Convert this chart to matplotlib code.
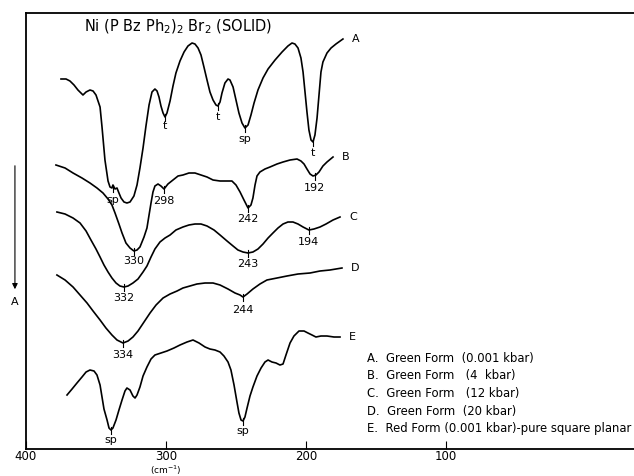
import matplotlib
matplotlib.use("Agg")
import matplotlib.pyplot as plt

# wavenumber (cm-1) and trace height (arbitrary absorbance units, grows downward)
a_wn = [375.0, 371.4, 368.6, 365.7, 362.9, 359.3, 357.1, 354.3, 352.1, 350.0, 347.1, 345.7, 343.6, 341.4,
        340.0, 338.6, 337.9, 336.4, 335.0, 333.6, 332.1, 330.0, 327.9, 325.7, 322.9, 320.7, 318.6, 316.4,
        314.3, 312.1, 310.0, 307.9, 306.4, 305.0, 303.6, 302.1, 300.7, 299.3, 297.1, 295.0, 292.9, 290.0,
        287.1, 284.3, 281.4, 279.3, 277.1, 275.0, 272.9, 270.7, 268.6, 266.4, 264.3, 262.9, 261.4, 260.0,
        257.9, 255.7, 254.3, 252.1, 250.0, 247.9, 245.7, 243.6, 241.4, 239.3, 237.1, 234.3, 230.7, 227.1,
        222.1, 217.1, 212.9, 210.0, 207.9, 205.7, 203.6, 202.1, 200.7, 199.3, 197.9, 196.4, 195.0, 193.6,
        192.1, 190.7, 189.3, 187.9, 185.0, 182.1, 178.6, 173.6]
a_y = [79, 79, 81, 85, 90, 95, 92, 90, 91, 95, 107, 127, 160, 181,
       187, 188, 185, 189, 188, 193, 198, 202, 203, 202, 196, 185, 168, 148,
       126, 105, 92, 89, 91, 97, 106, 113, 117, 113, 101, 86, 73, 61,
       52, 46, 43, 44, 48, 55, 67, 80, 92, 100, 105, 106, 102, 93,
       83, 79, 80, 87, 100, 113, 123, 128, 125, 115, 103, 90, 78, 69,
       60, 52, 46, 43, 44, 48, 58, 72, 92, 112, 130, 140, 142, 135,
       118, 95, 72, 62, 53, 48, 44, 39]

b_wn = [378.6, 372.1, 366.4, 360.0, 354.3, 349.3, 345.0, 341.4, 338.6, 336.4, 333.6, 331.4, 328.6, 325.7,
        322.9, 320.7, 318.6, 315.7, 313.6, 312.1, 310.7, 309.3, 307.9, 305.7, 303.6, 301.4, 298.6, 295.0,
        291.4, 287.9, 283.6, 279.3, 275.0, 270.7, 266.4, 261.4, 256.4, 252.9, 250.0, 247.1, 244.3, 241.4,
        239.3, 237.9, 236.4, 235.0, 232.9, 229.3, 225.7, 220.7, 216.4, 211.4, 206.4, 203.6, 201.4, 199.3,
        197.1, 195.0, 192.9, 190.7, 187.9, 185.0, 180.7]
b_y = [165, 168, 173, 178, 183, 188, 193, 199, 205, 213, 224, 233, 243, 248,
       251, 250, 247, 237, 228, 215, 203, 192, 186, 184, 186, 189, 184, 180,
       176, 175, 173, 173, 175, 177, 180, 181, 181, 181, 185, 192, 200, 208,
       205, 198, 185, 176, 172, 169, 167, 164, 162, 160, 159, 161, 164, 169,
       174, 176, 175, 172, 166, 162, 157]

c_wn = [377.9, 372.1, 366.4, 361.4, 357.1, 353.6, 350.0, 347.1, 344.3, 341.4, 338.6, 335.7, 332.9, 330.0,
        327.1, 323.6, 320.0, 316.4, 313.6, 310.7, 307.9, 304.3, 300.7, 297.1, 292.9, 287.9, 283.6, 279.3,
        275.0, 270.7, 265.7, 261.4, 256.4, 252.1, 248.6, 245.0, 241.4, 237.9, 234.3, 230.7, 227.1, 223.6,
        220.0, 216.4, 212.9, 209.3, 205.7, 202.1, 197.9, 194.3, 190.0, 185.7, 180.7, 175.7]
c_y = [212, 214, 218, 223, 231, 240, 249, 257, 265, 272, 278, 283, 286, 287,
       286, 283, 279, 272, 266, 257, 249, 242, 238, 235, 230, 227, 225, 224,
       224, 226, 230, 235, 241, 246, 250, 252, 253, 252, 249, 244, 238, 233,
       228, 224, 222, 222, 224, 227, 230, 229, 227, 224, 220, 217]

d_wn = [377.9, 372.1, 366.4, 361.4, 356.4, 352.1, 347.1, 342.9, 338.6, 335.0, 330.7, 327.1, 323.6, 320.0,
        315.7, 311.4, 307.1, 302.1, 297.1, 292.1, 287.9, 282.9, 277.9, 272.1, 266.4, 261.4, 255.7, 250.7,
        247.1, 245.0, 242.1, 237.9, 232.9, 227.9, 220.7, 213.6, 205.7, 197.1, 190.0, 182.9, 174.3]
d_y = [275, 280, 287, 295, 303, 311, 320, 328, 335, 340, 343, 341, 337, 331,
       322, 313, 305, 298, 294, 291, 288, 286, 284, 283, 283, 285, 289, 293,
       295, 297, 294, 289, 284, 280, 278, 276, 274, 273, 271, 270, 268]

e_wn = [370.7, 367.1, 363.6, 360.0, 357.1, 354.3, 351.4, 349.3, 347.1, 345.7, 344.3, 342.1, 340.7, 339.3,
        337.9, 335.7, 333.6, 331.4, 329.3, 327.9, 325.7, 323.6, 322.1, 320.7, 318.6, 316.4, 313.6, 310.7,
        307.9, 303.6, 299.3, 294.3, 290.0, 285.0, 280.7, 276.4, 272.1, 268.6, 265.0, 261.4, 258.6, 255.7,
        253.6, 251.4, 249.3, 247.9, 246.4, 245.0, 243.6, 242.1, 240.0, 237.9, 235.0, 232.1, 229.3, 227.1,
        224.3, 221.4, 218.6, 216.4, 214.3, 211.4, 208.6, 205.0, 201.4, 198.6, 195.7, 192.9, 189.3, 185.0,
        180.0, 175.7]
e_y = [395, 389, 383, 377, 372, 370, 371, 375, 385, 397, 409, 420, 428, 430,
       428, 420, 410, 400, 391, 388, 390, 396, 398, 395, 387, 376, 367, 359,
       355, 353, 351, 348, 345, 342, 340, 343, 347, 349, 350, 352, 356, 362,
       370, 385, 402, 413, 420, 421, 417, 408, 396, 387, 376, 368, 362, 360,
       362, 363, 365, 364, 355, 343, 336, 331, 331, 333, 335, 337, 336, 336,
       337, 337]

# band marks: (wavenumber, trace height, label, label height)
bands = [
    (337.9, 188, "sp", 200), (300.7, 117, "t", 126), (262.9, 106, "t", 117),
    (243.6, 128, "sp", 139), (195.0, 142, "t", 153),
    (322.9, 251, "330", 261), (301.4, 189, "298", 201), (241.4, 208, "242", 219),
    (193.6, 176, "192", 188),
    (330.0, 287, "332", 298), (241.4, 253, "243", 264), (197.9, 230, "194", 242),
    (330.7, 343, "334", 355), (245.0, 297, "244", 310),
    (339.3, 430, "sp", 440), (245.0, 421, "sp", 431),
]

trace_names = ["A", "B", "C", "D", "E"]
legend_lines = [
    "A.  Green Form  (0.001 kbar)",
    "B.  Green Form   (4  kbar)",
    "C.  Green Form   (12 kbar)",
    "D.  Green Form  (20 kbar)",
    "E.  Red Form (0.001 kbar)-pure square planar",
]
x_ticks = [400, 300, 200, 100]

fig = plt.figure(figsize=(6.34, 4.76), dpi=100)
ax = fig.add_axes([0.041, 0.0567, 0.959, 0.916])

traces = [(a_wn, a_y), (b_wn, b_y), (c_wn, c_y), (d_wn, d_y), (e_wn, e_y)]
for (wn, y), name in zip(traces, trace_names):
    ax.plot(wn, y, color="black", lw=1.2, solid_joinstyle="round")
    ax.text(wn[-1] - 6.5, y[-1], name, fontsize=8, va="center", ha="left")

for wn, y, lab, ly in bands:
    ax.plot([wn, wn], [y - 3, y + 4], color="black", lw=0.8)
    ax.text(wn, ly, lab, fontsize=8, ha="center", va="center")

for i, line in enumerate(legend_lines):
    ax.text(156.4, 358 + i * 17.7, line, fontsize=8.4, ha="left", va="center")

ax.text(291.4, 27, r"Ni (P Bz Ph$_2$)$_2$ Br$_2$ (SOLID)", fontsize=10.5, ha="center", va="center")

ax.set_xlim(400, -34.3)
ax.set_ylim(449, 13)
ax.set_xticks(x_ticks)
ax.set_xticklabels([str(t) for t in x_ticks], fontsize=8.5)
ax.tick_params(axis="x", direction="in", length=6, width=0.8, pad=0.5)
ax.set_yticks([])
ax.spines["right"].set_visible(False)
for s in ["left", "top", "bottom"]:
    ax.spines[s].set_linewidth(1.3)

ax.text(300, 470, r"(cm$^{-1}$)", fontsize=6.5, ha="center", va="center", clip_on=False)

# absorbance arrow on the left
ax.annotate("", xy=(407.9, 292), xytext=(407.9, 163),
            arrowprops=dict(arrowstyle="-|>", color="black", lw=0.8, mutation_scale=8),
            annotation_clip=False)
ax.text(407.9, 302, "A", fontsize=8, ha="center", va="center", clip_on=False)

fig.savefig("out.png", dpi=100)
